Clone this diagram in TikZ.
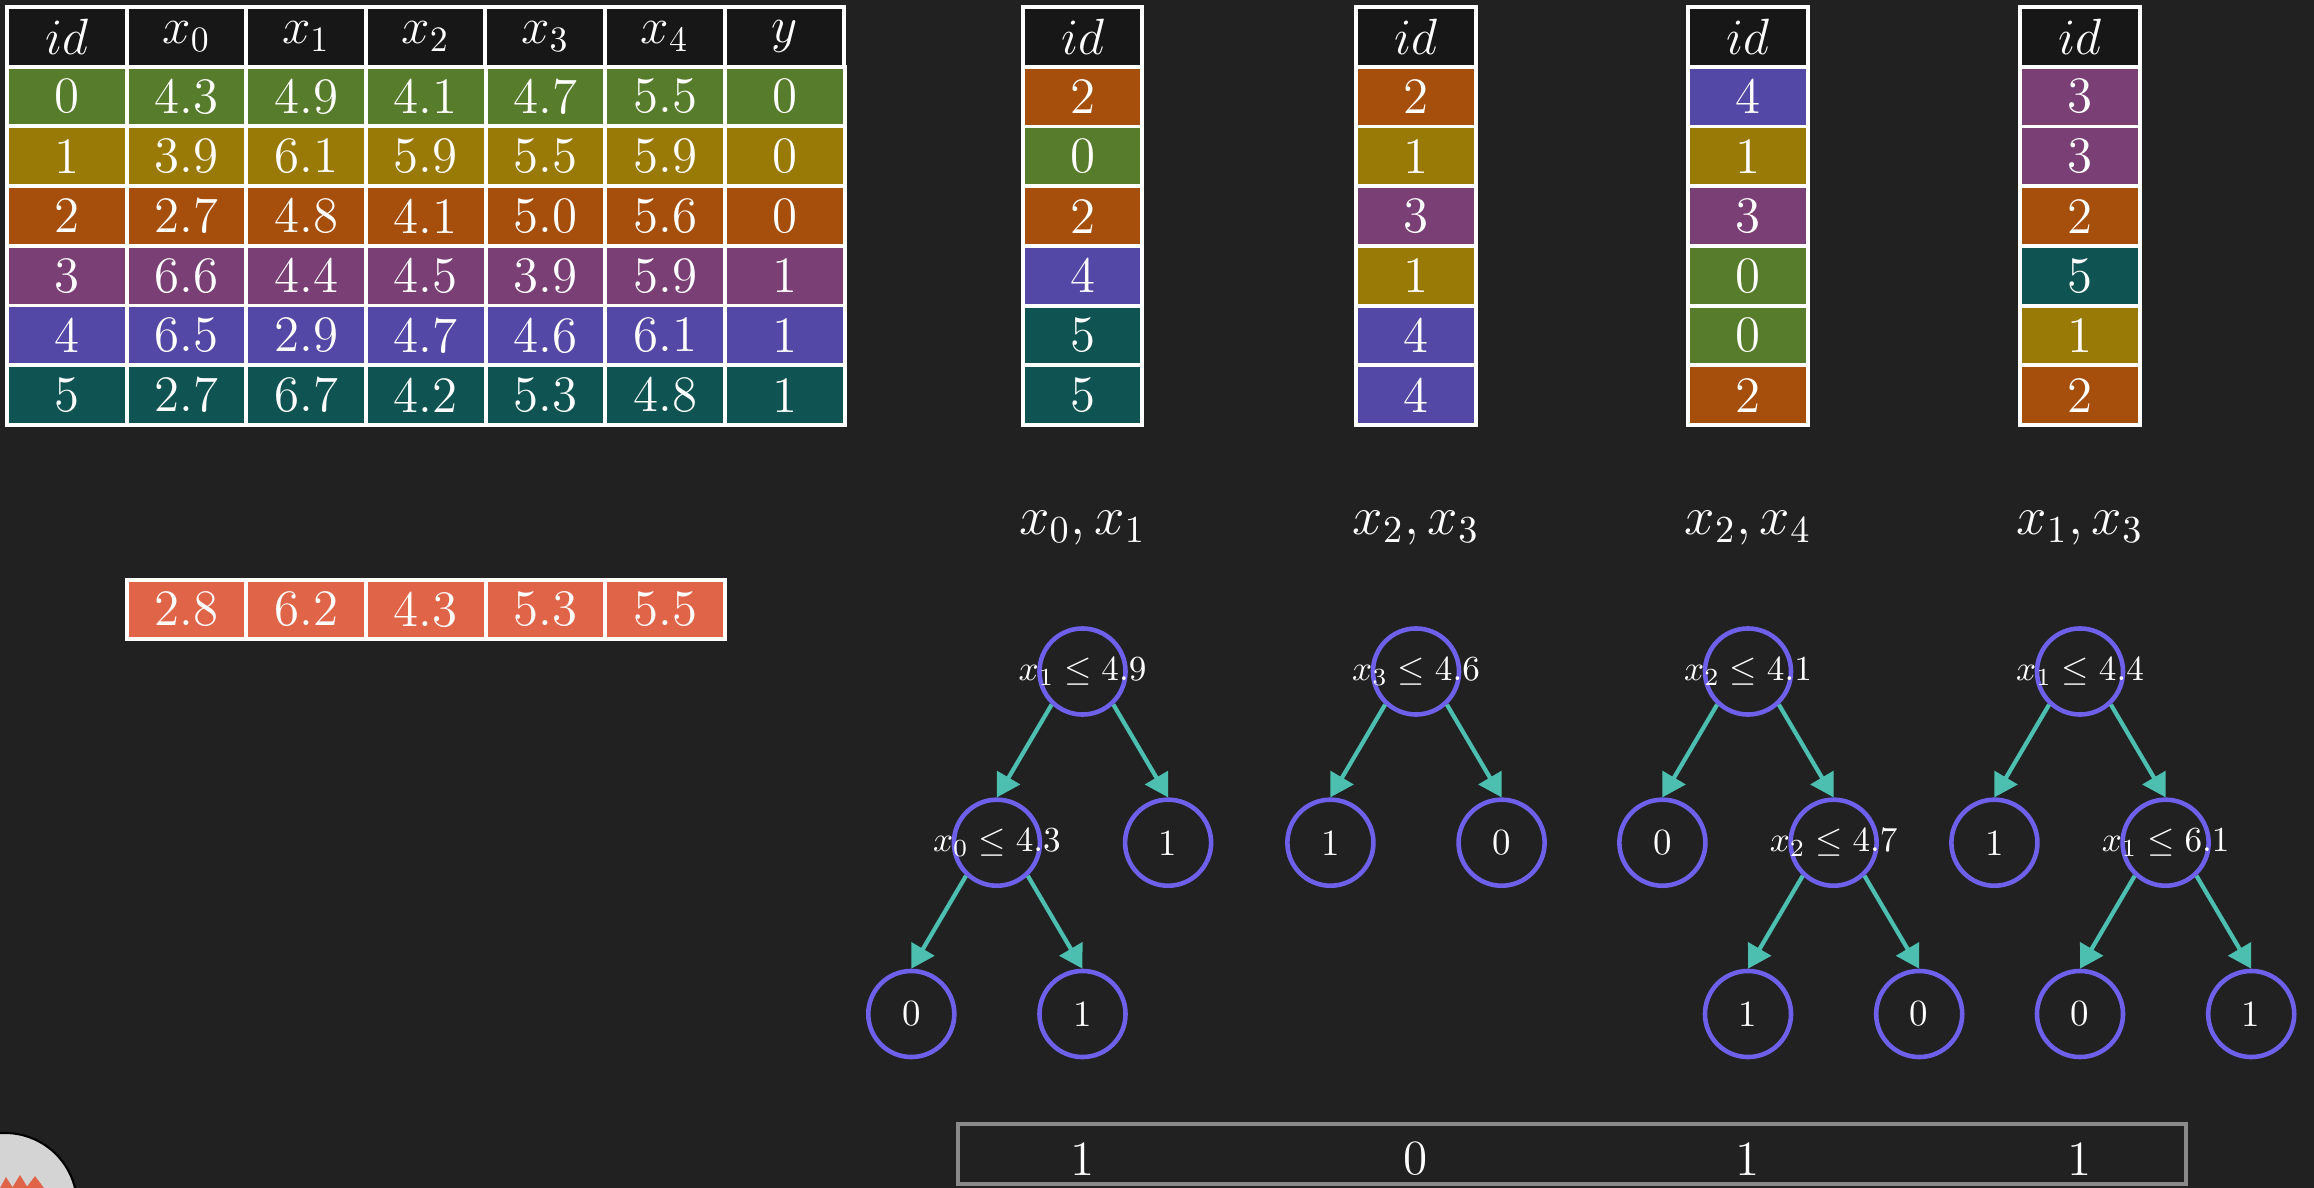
\RequirePackage{fix-cm}
\documentclass[tikz,border=0pt]{standalone}
\usetikzlibrary{arrows.meta,positioning}
\definecolor{bgc}{HTML}{212121}
\definecolor{hdr}{HTML}{171717}
\definecolor{c0}{HTML}{577D2C}
\definecolor{c1}{HTML}{9A7A06}
\definecolor{c2}{HTML}{A64E0B}
\definecolor{c3}{HTML}{7A3F75}
\definecolor{c4}{HTML}{5448A6}
\definecolor{c5}{HTML}{0F5353}
\definecolor{qry}{HTML}{E06448}
\definecolor{nodec}{HTML}{6E60EB}
\definecolor{arrc}{HTML}{4DBFB0}
\definecolor{boxc}{HTML}{8A8A8A}
\definecolor{logoc}{HTML}{D4D4D4}
\tikzset{
	cell/.style={draw=white,line width=1.1pt,outer sep=0pt,inner sep=0pt,minimum width=1.196cm,minimum height=0.597cm,text=white,font=\fontsize{14.5}{16}\selectfont},
	hcell/.style={cell,fill=hdr},
	tnode/.style={circle,draw=nodec,line width=1.3pt,minimum size=0.86cm,inner sep=0pt,text=white,font=\fontsize{10.5}{12}\selectfont},
	lbl/.style={text=white,inner sep=0pt,font=\fontsize{10}{12}\selectfont},
	arr/.style={draw=arrc,line width=1.2pt,-{Triangle[length=0.23cm,width=0.26cm]}},
	fname/.style={text=white,font=\fontsize{15.5}{18}\selectfont}
}
\begin{document}
\begin{tikzpicture}[x=0.01cm,y=-0.01cm]
	\useasboundingbox (0,0) rectangle (2314,1188);
	\clip (0,0) rectangle (2314,1188);
	\fill[bgc] (0,0) rectangle (2314,1188);
	% data table
	\foreach \p/\t in {0/id,1/x_0,2/x_1,3/x_2,4/x_3,5/x_4,6/y}
		\node[hcell] (h\p) at ({66.8+119.6*\p},36.85) {$\t$};
	\foreach \r/\va/\vb/\vc/\vd/\ve/\vy in {0/4.3/4.9/4.1/4.7/5.5/0,1/3.9/6.1/5.9/5.5/5.9/0,2/2.7/4.8/4.1/5.0/5.6/0,3/6.6/4.4/4.5/3.9/5.9/1,4/6.5/2.9/4.7/4.6/6.1/1,5/2.7/6.7/4.2/5.3/4.8/1}{
		\node[cell,fill=c\r] (t\r-0) at (66.8,{96.55+59.7*\r}) {\r};
		\node[cell,fill=c\r,right=0pt of t\r-0] (t\r-1) {\va};
		\node[cell,fill=c\r,right=0pt of t\r-1] (t\r-2) {\vb};
		\node[cell,fill=c\r,right=0pt of t\r-2] (t\r-3) {\vc};
		\node[cell,fill=c\r,right=0pt of t\r-3] (t\r-4) {\vd};
		\node[cell,fill=c\r,right=0pt of t\r-4] (t\r-5) {\ve};
		\node[cell,fill=c\r,right=0pt of t\r-5] (t\r-6) {\vy};
	}
	% new sample
	\node[cell,fill=qry] (q1) at (186.4,609.5) {2.8};
	\node[cell,fill=qry,right=0pt of q1] (q2) {6.2};
	\node[cell,fill=qry,right=0pt of q2] (q3) {4.3};
	\node[cell,fill=qry,right=0pt of q3] (q4) {5.3};
	\node[cell,fill=qry,right=0pt of q4] (q5) {5.5};
	% bootstrap samples
	\foreach \s/\xx/\va/\vb/\vc/\vd/\ve/\vf/\ft in {1/1082.5/2/0/2/4/5/5/{x_0, x_1},2/1416/2/1/3/1/4/4/{x_2, x_3},3/1748/4/1/3/0/0/2/{x_2, x_4},4/2080/3/3/2/5/1/2/{x_1, x_3}}{
		\node[hcell] (s\s-h) at (\xx,36.85) {$id$};
		\node[cell,fill=c\va,below=0pt of s\s-h] (s\s-0) {\va};
		\node[cell,fill=c\vb,below=0pt of s\s-0] (s\s-1) {\vb};
		\node[cell,fill=c\vc,below=0pt of s\s-1] (s\s-2) {\vc};
		\node[cell,fill=c\vd,below=0pt of s\s-2] (s\s-3) {\vd};
		\node[cell,fill=c\ve,below=0pt of s\s-3] (s\s-4) {\ve};
		\node[cell,fill=c\vf,below=0pt of s\s-4] (s\s-5) {\vf};
		\node[fname] (f\s) at (\xx,528) {$\ft$};
	}
	% trees
	\node[tnode,label={[lbl]center:$x_1\le 4.9$}] (r1) at (1082.5,671.5) {};
	\node[tnode,label={[lbl]center:$x_0\le 4.3$}] (r1a) at (996.9,842.7) {};
	\node[tnode] (r1b) at (1168.1,842.7) {1};
	\node[tnode] (r1aa) at (911.3,1014) {0};
	\node[tnode] (r1ab) at (1082.5,1014) {1};
	\draw[arr] (r1.-133) -- (r1a.north);
	\draw[arr] (r1.-47) -- (r1b.north);
	\draw[arr] (r1a.-133) -- (r1aa.north);
	\draw[arr] (r1a.-47) -- (r1ab.north);

	\node[tnode,label={[lbl]center:$x_3\le 4.6$}] (r2) at (1416,671.5) {};
	\node[tnode] (r2a) at (1330.4,842.7) {1};
	\node[tnode] (r2b) at (1501.6,842.7) {0};
	\draw[arr] (r2.-133) -- (r2a.north);
	\draw[arr] (r2.-47) -- (r2b.north);

	\node[tnode,label={[lbl]center:$x_2\le 4.1$}] (r3) at (1748,671.5) {};
	\node[tnode] (r3a) at (1662.4,842.7) {0};
	\node[tnode,label={[lbl]center:$x_2\le 4.7$}] (r3b) at (1833.6,842.7) {};
	\node[tnode] (r3ba) at (1748,1014) {1};
	\node[tnode] (r3bb) at (1919.2,1014) {0};
	\draw[arr] (r3.-133) -- (r3a.north);
	\draw[arr] (r3.-47) -- (r3b.north);
	\draw[arr] (r3b.-133) -- (r3ba.north);
	\draw[arr] (r3b.-47) -- (r3bb.north);

	\node[tnode,label={[lbl]center:$x_1\le 4.4$}] (r4) at (2080,671.5) {};
	\node[tnode] (r4a) at (1994.4,842.7) {1};
	\node[tnode,label={[lbl]center:$x_1\le 6.1$}] (r4b) at (2165.6,842.7) {};
	\node[tnode] (r4ba) at (2080,1014) {0};
	\node[tnode] (r4bb) at (2251.2,1014) {1};
	\draw[arr] (r4.-133) -- (r4a.north);
	\draw[arr] (r4.-47) -- (r4b.north);
	\draw[arr] (r4b.-133) -- (r4ba.north);
	\draw[arr] (r4b.-47) -- (r4bb.north);
	% votes
	\node[draw=boxc,line width=1.2pt,minimum width=12.28cm,minimum height=0.6cm,inner sep=0pt] (res) at (1572,1154) {};
	\node[fname,font=\fontsize{14}{16}\selectfont] (v1) at (1082.5,1159) {1};
	\node[fname,font=\fontsize{14}{16}\selectfont] (v2) at (1416,1159) {0};
	\node[fname,font=\fontsize{14}{16}\selectfont] (v3) at (1748,1159) {1};
	\node[fname,font=\fontsize{14}{16}\selectfont] (v4) at (2080,1159) {1};
	% logo
	\filldraw[fill=logoc,draw=black,line width=0.6pt] (5,1205) circle[radius=0.72cm];
	\fill[qry] (0,1188) -- (6,1177) -- (13,1188) -- cycle;
	\fill[qry] (12,1188) -- (20,1175) -- (28,1188) -- cycle;
	\fill[qry] (26,1188) -- (35,1176) -- (44,1188) -- cycle;
\end{tikzpicture}
\end{document}
